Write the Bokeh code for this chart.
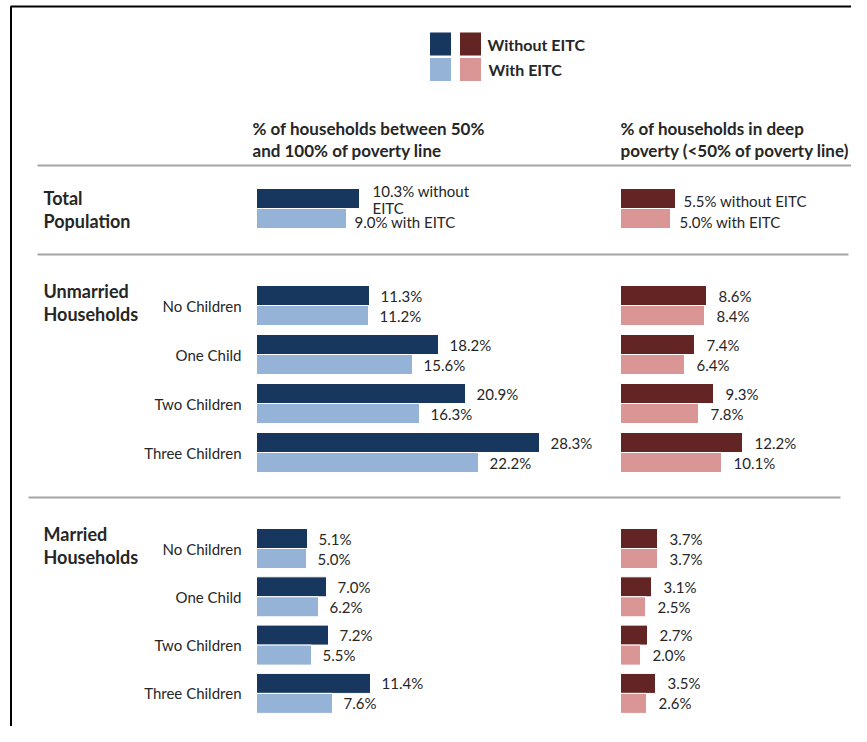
from bokeh.plotting import figure
from bokeh.models import Range1d
from bokeh.core.properties import value
from bokeh.embed import file_html
from bokeh.resources import INLINE

# ---------------- data ----------------
categories = ["No Children", "One Child", "Two Children", "Three Children"]

total_between = [10.3, 9.0]          # without, with
total_deep = [5.5, 5.0]

unmarried_between_without = [11.3, 18.2, 20.9, 28.3]
unmarried_between_with = [11.2, 15.6, 16.3, 22.2]
unmarried_deep_without = [8.6, 7.4, 9.3, 12.2]
unmarried_deep_with = [8.4, 6.4, 7.8, 10.1]

married_between_without = [5.1, 7.0, 7.2, 11.4]
married_between_with = [5.0, 6.2, 5.5, 7.6]
married_deep_without = [3.7, 3.1, 2.7, 3.5]
married_deep_with = [3.7, 2.5, 2.0, 2.6]

legend_labels = ["Without EITC", "With EITC"]
header_left = ["% of households between 50%", "and 100% of poverty line"]
header_right = ["% of households in deep", "poverty (<50% of poverty line)"]
group_labels = [["Total", "Population"], ["Unmarried", "Households"], ["Married", "Households"]]

# ---------------- style ----------------
DARK_BLUE = "#17375E"
LIGHT_BLUE = "#95B3D7"
DARK_RED = "#632523"
PINK = "#DA9694"
SEP = "#A6A6A6"
TXT = "#262626"
FONT = value("Lato")

W, H = 851, 726
ORG = 0
PX_PER_PCT = 10.0
LEFT_ZERO = 256.0
RIGHT_ZERO = 620.0
BAR_H = 20

p = figure(width=W, height=H, output_backend="svg", toolbar_location=None,
           x_range=Range1d(ORG, ORG + W), y_range=Range1d(ORG + H, ORG),
           min_border=0, outline_line_color=None)
p.axis.visible = False
p.grid.visible = False
p.extra_x_ranges = {
    "left": Range1d((ORG - LEFT_ZERO) / PX_PER_PCT, (ORG + W - LEFT_ZERO) / PX_PER_PCT),
    "right": Range1d((ORG - RIGHT_ZERO) / PX_PER_PCT, (ORG + W - RIGHT_ZERO) / PX_PER_PCT),
}

# frame lines
p.line([10.5, 10.5], [6, ORG + H], line_color="black", line_width=2)
p.line([10, 865], [6, 6], line_color="black", line_width=2)

# separators
for (x0, x1, y) in [(37, 851, 165), (37, 848, 254), (28, 840, 497)]:
    p.line([x0, x1], [y, y], line_color=SEP, line_width=2)

# legend
for i, (cd, cl) in enumerate([(DARK_BLUE, LIGHT_BLUE), (DARK_RED, PINK)]):
    xc = 440 + 30 * i
    p.rect([xc, xc], [43.5, 69], width=21, height=[23, 23], fill_color=[cd, cl], line_color=None)
p.text([487, 488], [43.5, 69], text=legend_labels, text_font=FONT, text_font_style="bold",
       text_font_size="16px", text_baseline="middle", text_color=TXT)

# headers
p.text([252, 252], [128, 150], text=header_left, text_font=FONT, text_font_style="bold",
       text_font_size="17px", text_baseline="middle", text_color=TXT)
p.text([620, 620], [128, 150], text=header_right, text_font=FONT, text_font_style="bold",
       text_font_size="17px", text_baseline="middle", text_color=TXT)

# group labels
for (l1, l2), yc in zip(group_labels, [208, 301, 544]):
    p.text([43, 43], [yc - 11, yc + 12], text=[l1, l2], text_font=FONT, text_font_style="bold",
           text_font_size="18px", text_baseline="middle", text_color=TXT)

# row centers
unmarried_rows = [305 + 49 * i for i in range(4)]
married_rows = [548 + 48.3 * i for i in range(4)]


def bars(rows, vals, rng, color, shift):
    ys = [r + shift for r in rows]
    p.hbar(y=ys, left=0, right=vals, height=BAR_H, fill_color=color, line_color="white",
           line_width=1, x_range_name=rng)


def labels(rows, vals, rng, shift, texts=None, dx=11):
    ys = [r + shift for r in rows]
    txt = texts if texts is not None else [f"{v:.1f}%" for v in vals]
    p.text(x=vals, y=ys, text=txt, x_range_name=rng, x_offset=dx, text_font=FONT,
           text_font_size="15px", text_baseline="middle", text_color=TXT)


for rows, bw, bwi, dw, dwi in [
    (unmarried_rows, unmarried_between_without, unmarried_between_with,
     unmarried_deep_without, unmarried_deep_with),
    (married_rows, married_between_without, married_between_with,
     married_deep_without, married_deep_with),
]:
    bars(rows, bw, "left", DARK_BLUE, -10)
    bars(rows, bwi, "left", LIGHT_BLUE, 10)
    bars(rows, dw, "right", DARK_RED, -10)
    bars(rows, dwi, "right", PINK, 10)
    labels(rows, bw, "left", -10)
    labels(rows, bwi, "left", 10)
    labels(rows, dw, "right", -10, dx=12)
    labels(rows, dwi, "right", 10, dx=12)
    p.text([241] * 4, rows, text=categories, text_font=FONT, text_font_size="15px",
           text_align="right", text_baseline="middle", text_color=TXT)

# total population
total_row = [208]
bars(total_row, [total_between[0]], "left", DARK_BLUE, -10)
bars(total_row, [total_between[1]], "left", LIGHT_BLUE, 10)
bars(total_row, [total_deep[0]], "right", DARK_RED, -10)
bars(total_row, [total_deep[1]], "right", PINK, 10)
labels([208], [total_between[0]], "left", -18, texts=[f"{total_between[0]:.1f}% without"], dx=13)
labels([208], [total_between[0]], "left", -1, texts=["EITC"], dx=13)
labels([208], [total_between[1]], "left", 13, texts=[f"{total_between[1]:.1f}% with EITC"], dx=8)
labels([208], [total_deep[0]], "right", -8, texts=[f"{total_deep[0]:.1f}% without EITC"], dx=8)
labels([208], [total_deep[1]], "right", 13, texts=[f"{total_deep[1]:.1f}% with EITC"], dx=9)

open("out.html", "w").write(file_html(p, INLINE))
